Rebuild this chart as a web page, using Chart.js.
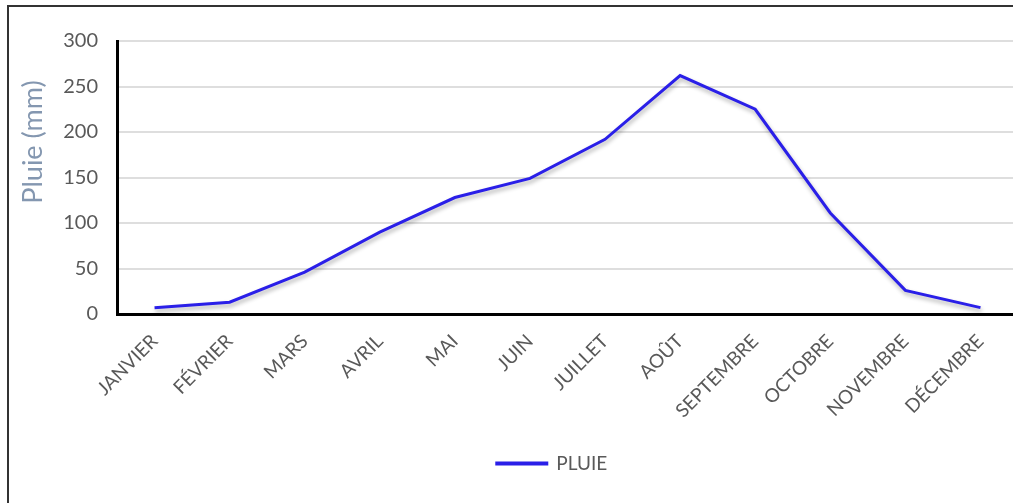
<!DOCTYPE html>
<html>
<head>
<meta charset="utf-8">
<script src="https://cdn.jsdelivr.net/npm/chart.js@4/dist/chart.umd.min.js"></script>
<style>
  html, body { margin: 0; padding: 0; background: #fff; overflow: hidden; }
  #frame { position: absolute; left: 7px; top: 5px; width: 1100px; height: 600px; border: 2px solid #333; }
  #pluieChart { position: absolute; left: 0; top: 0; }
</style>
</head>
<body>
<div id="frame"></div>
<canvas id="pluieChart" width="1018" height="503"></canvas>
<script>
const mois = ['JANVIER', 'FÉVRIER', 'MARS', 'AVRIL', 'MAI', 'JUIN', 'JUILLET', 'AOÛT', 'SEPTEMBRE', 'OCTOBRE', 'NOVEMBRE', 'DÉCEMBRE'];
const pluie = [7, 13, 46, 90, 128, 149, 192, 262, 225, 111, 26, 7];
const yMin = 0;
const yMax = 300;
const yStep = 50;
const titreY = 'Pluie (mm)';

const police = 'Lato, "Open Sans", sans-serif';
const gris = '#595959';

// petite ombre sous la courbe, comme dans Excel
const ombre = {
    id: 'ombre',
    beforeDatasetsDraw(chart) {
        const ctx = chart.ctx;
        ctx.save();
        ctx.shadowColor = 'rgba(0, 0, 0, 0.3)';
        ctx.shadowBlur = 4;
        ctx.shadowOffsetX = 1;
        ctx.shadowOffsetY = 3;
    },
    afterDatasetsDraw(chart) {
        chart.ctx.restore();
    }
};

// titre de l'axe Y, placé un peu plus haut que le centre (comme l'original)
const titreAxe = {
    id: 'titreAxe',
    afterDraw(chart) {
        const ctx = chart.ctx;
        ctx.save();
        ctx.translate(33, 142);
        ctx.rotate(-Math.PI / 2);
        ctx.fillStyle = '#8497b0';
        ctx.font = '27px ' + police;
        ctx.textAlign = 'center';
        ctx.textBaseline = 'middle';
        ctx.fillText(titreY, 0, 0);
        ctx.restore();
    }
};

// décale la légende vers la droite
const decaleLegende = {
    id: 'decaleLegende',
    afterLayout(chart) {
        chart.legend.left += 38;
        chart.legend.right += 38;
    }
};

const ctx = document.getElementById('pluieChart').getContext('2d');

new Chart(ctx, {
    type: 'line',
    data: {
        labels: mois,
        datasets: [{
            label: 'PLUIE',
            data: pluie,
            borderColor: '#2a1fe8',
            backgroundColor: '#2a1fe8',
            borderWidth: 3,
            pointRadius: 0,
            tension: 0,
            fill: false
        }]
    },
    plugins: [ombre, titreAxe, decaleLegende],
    options: {
        responsive: false,
        animation: false,
        layout: { padding: { left: 10, top: 41, right: 0, bottom: 20 } },
        plugins: {
            tooltip: { enabled: false },
            legend: {
                position: 'bottom',
                labels: {
                    boxWidth: 50,
                    boxHeight: 1,
                    color: gris,
                    font: { family: police, size: 19 }
                }
            }
        },
        scales: {
            x: {
                offset: true,
                grid: { display: false, drawTicks: false },
                border: { display: true, color: '#000', width: 3 },
                ticks: {
                    color: gris,
                    font: { family: police, size: 19 },
                    minRotation: 45,
                    maxRotation: 45,
                    padding: 16
                },
                afterFit: s => { s.height = 130; }
            },
            y: {
                min: yMin,
                max: yMax,
                grid: {
                    drawTicks: false,
                    lineWidth: 2,
                    color: c => c.index === 0 ? 'rgba(0,0,0,0)' : '#dedede'
                },
                border: { display: true, color: '#000', width: 3 },
                ticks: {
                    stepSize: yStep,
                    color: gris,
                    font: { family: police, size: 20 },
                    padding: 19
                },
                afterFit: s => { s.width = 107; }
            }
        }
    }
});
</script>
</body>
</html>
